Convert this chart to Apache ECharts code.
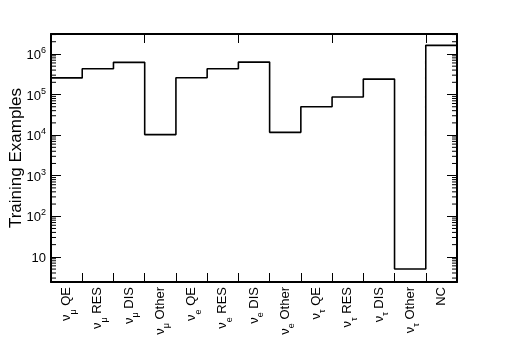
<!DOCTYPE html>
<html><head><meta charset="utf-8">
<script src="https://cdn.jsdelivr.net/npm/echarts@6/dist/echarts.min.js"></script>
<style>html,body{margin:0;padding:0;background:#fff}#c{width:508px;height:344px}</style>
</head><body><div id="c"></div>
<script>
// Categories: [neutrino flavour subscript, interaction label]
const categories = ['ν_μ QE','ν_μ RES','ν_μ DIS','ν_μ Other','ν_e QE','ν_e RES','ν_e DIS','ν_e Other','ν_τ QE','ν_τ RES','ν_τ DIS','ν_τ Other','NC'];
const counts = [2.57e5, 4.3e5, 6.2e5, 1.03e4, 2.6e5, 4.3e5, 6.3e5, 1.17e4, 5.0e4, 8.7e4, 2.4e5, 5, 1.63e6];
const yMin = 2.4, yMax = 3.1e6;
const yTitle = 'Training Examples';

const FONT = 'Liberation Sans, Arial, Helvetica, sans-serif';
const chart = echarts.init(document.getElementById('c'), null, {renderer: 'canvas'});

function catLabel(s) {
  const m = s.match(/^ν_(.) (.*)$/);
  if (!m) return '{n|' + s + '}';
  return '{n|ν}{sub|' + m[1] + '}{n| ' + m[2] + '}';
}
function yLabel(v) {
  const e = Math.round(Math.log10(v));
  if (Math.abs(Math.pow(10, e) - v) > 1e-6 * v) return '';
  if (e === 1) return '{b|10}';
  return '{b|10}{sup|' + e + '}';
}

const stepData = counts.map((v, i) => [i, v]);
stepData.push([counts.length, counts[counts.length - 1]]);

const grid = {left: 51, right: 51, top: 34, bottom: 62, outerBoundsMode: 'none', containLabel: false};
const frameLine = {show: true, lineStyle: {color: '#000', width: 2}};

chart.setOption({
  animation: false,
  backgroundColor: '#fff',
  grid: grid,
  xAxis: [
    {type: 'category', data: categories, position: 'bottom', boundaryGap: true,
     axisLine: frameLine, axisTick: {show: true, inside: true, length: 9, lineStyle: {color: '#000', width: 1}},
     axisLabel: {rotate: 90, margin: 5, formatter: catLabel, color: '#000', interval: 0,
       rich: {n: {fontFamily: FONT, fontSize: 13, color: '#000', lineHeight: 20, verticalAlign: 'middle'},
              sub: {fontFamily: FONT, fontSize: 9, color: '#000', lineHeight: 22, verticalAlign: 'bottom'}}}},
    {type: 'category', data: categories, position: 'top', boundaryGap: true,
     axisLine: frameLine, axisTick: {show: true, inside: true, length: 9, lineStyle: {color: '#000', width: 1}},
     axisLabel: {show: false}},
    {type: 'value', min: 0, max: categories.length, show: false}
  ],
  yAxis: [
    {type: 'log', min: yMin, max: yMax, logBase: 10, position: 'left',
     name: yTitle, nameLocation: 'middle', nameGap: 26, nameMoveOverlap: false,
     nameTextStyle: {fontFamily: FONT, fontSize: 17, color: '#000'},
     axisLine: frameLine, splitLine: {show: false},
     axisTick: {show: true, inside: true, length: 10, lineStyle: {color: '#000', width: 1}},
     axisLabel: {formatter: yLabel, showMinLabel: false, showMaxLabel: false, margin: 5,
       rich: {b: {fontFamily: FONT, fontSize: 13, color: '#000', lineHeight: 16, verticalAlign: 'bottom'},
              sup: {fontFamily: FONT, fontSize: 9, color: '#000', lineHeight: 16, verticalAlign: 'top'}}}},
    {type: 'log', min: yMin, max: yMax, logBase: 10, position: 'right',
     axisLine: frameLine, splitLine: {show: false},
     axisTick: {show: true, inside: true, length: 10, lineStyle: {color: '#000', width: 1}},
     axisLabel: {show: false}}
  ],
  series: [{
    type: 'line', xAxisIndex: 2, yAxisIndex: 0, step: 'end', data: stepData,
    symbol: 'none', lineStyle: {color: '#000', width: 1.6}, clip: true
  }]
});

// minor log ticks on left and right frame
const minor = [];
const xl = grid.left, xr = 508 - grid.right;
for (let d = 0; d <= 7; d++) {
  for (let m = 2; m <= 9; m++) {
    const v = m * Math.pow(10, d);
    if (v <= yMin || v >= yMax) continue;
    const y = chart.convertToPixel({yAxisIndex: 0}, v);
    minor.push({type: 'line', shape: {x1: xl, y1: y, x2: xl + 5, y2: y}, style: {stroke: '#000', lineWidth: 1}, silent: true});
    minor.push({type: 'line', shape: {x1: xr, y1: y, x2: xr - 5, y2: y}, style: {stroke: '#000', lineWidth: 1}, silent: true});
  }
}
chart.setOption({graphic: minor});
</script></body></html>
